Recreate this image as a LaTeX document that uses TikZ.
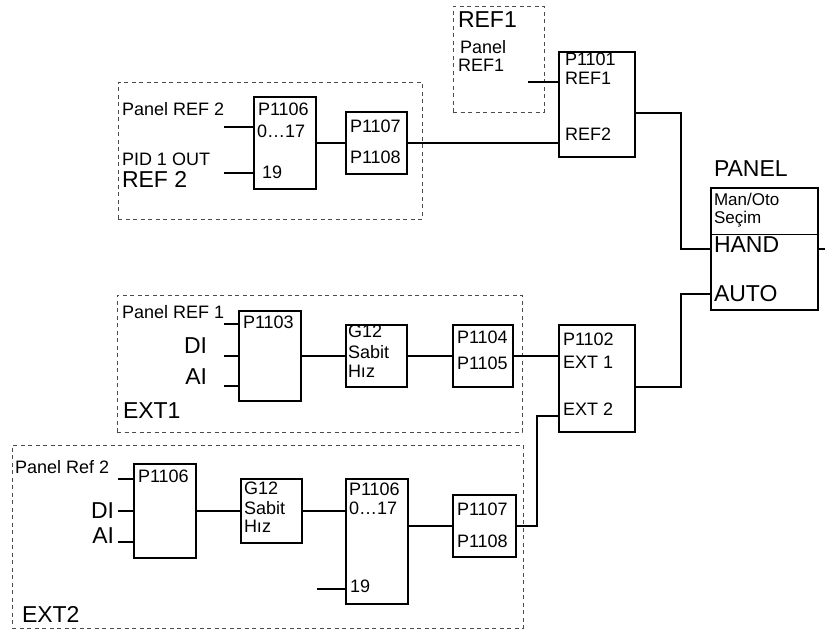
\documentclass[tikz,border=0pt]{standalone}
\usepackage{fontspec}
\setmainfont{Liberation Sans}
\begin{document}
\begin{tikzpicture}[x=1pt,y=-1pt,
  txt/.style={anchor=base west, inner sep=0pt, outer sep=0pt, font=\fontsize{18}{20}\selectfont},
  txtr/.style={txt, anchor=base east},
  big/.style={txt, font=\fontsize{23}{25}\selectfont},
  bigr/.style={big, anchor=base east},
  blk/.style={draw, line width=1.8pt, anchor=north west, inner sep=0pt, outer sep=0pt},
  grp/.style={draw=black!70, line width=0.9pt, dash pattern=on 4pt off 3.5pt, anchor=north west, inner sep=0pt, outer sep=0pt},
  wire/.style={line width=1.8pt}]
\useasboundingbox (0,0) rectangle (825,632);

% dashed group frames
\node[grp, minimum width=304pt, minimum height=137pt] (gref2) at (118,82) {};
\node[grp, minimum width=91pt, minimum height=106pt] (gref1) at (453,6) {};
\node[grp, minimum width=405pt, minimum height=137pt] (gext1) at (117,295) {};
\node[grp, minimum width=511pt, minimum height=183pt] (gext2) at (12,445) {};

% blocks
\node[blk, minimum width=62pt, minimum height=92pt] (p1106a) at (254,97) {};
\node[blk, minimum width=61pt, minimum height=62pt] (p1107a) at (346,112) {};
\node[blk, minimum width=76pt, minimum height=105pt] (p1101) at (559,52) {};
\node[blk, minimum width=107pt, minimum height=122pt] (panel) at (711,188) {};
\node[blk, minimum width=62pt, minimum height=90pt] (p1103) at (239,311) {};
\node[blk, minimum width=61pt, minimum height=62pt] (g12a) at (346,325) {};
\node[blk, minimum width=60pt, minimum height=62pt] (p1104) at (453,325) {};
\node[blk, minimum width=76pt, minimum height=107pt] (p1102) at (559,325) {};
\node[blk, minimum width=62pt, minimum height=94pt] (p1106b) at (134,464) {};
\node[blk, minimum width=61pt, minimum height=64pt] (g12b) at (241,479) {};
\node[blk, minimum width=62pt, minimum height=125pt] (p1106c) at (346,479) {};
\node[blk, minimum width=63pt, minimum height=62pt] (p1107b) at (453,495) {};

% panel divider
\coordinate (divy) at (0,234);
\draw[line width=1pt] (divy -| panel.west) -- (divy -| panel.east);

% free ends / bends
\coordinate (iPr2) at (224,127);
\coordinate (iPid) at (224,173);
\coordinate (iRef1) at (528,82);
\coordinate (hbend) at (681,113);
\coordinate (out) at (825,249);
\coordinate (abot) at (681,387);
\coordinate (atop) at (681,294);
\coordinate (e1a) at (224,324);
\coordinate (e1b) at (224,356);
\coordinate (e1c) at (224,386);
\coordinate (e2a) at (118,479);
\coordinate (e2b) at (118,511);
\coordinate (e2c) at (118,542);
\coordinate (i19) at (317,589);
\coordinate (ext2up) at (537,416);

% connectors
\draw[wire] (iPr2) -- (iPr2 -| p1106a.west);
\draw[wire] (iPid) -- (iPid -| p1106a.west);
\draw[wire] (p1106a.east) -- (p1106a.east -| p1107a.west);
\draw[wire] (p1107a.east) -- (p1107a.east -| p1101.west);
\draw[wire] (iRef1) -- (iRef1 -| p1101.west);
\draw[wire] (hbend -| p1101.east) -- (hbend) |- (panel.west);
\draw[wire] (panel.east) -- (out);
\draw[wire] (abot -| p1102.east) -- (abot) -- (atop) -- (atop -| panel.west);
\draw[wire] (e1a) -- (e1a -| p1103.west);
\draw[wire] (e1b) -- (e1b -| p1103.west);
\draw[wire] (e1c) -- (e1c -| p1103.west);
\draw[wire] (p1103.east) -- (p1103.east -| g12a.west);
\draw[wire] (g12a.east) -- (g12a.east -| p1104.west);
\draw[wire] (p1104.east) -- (p1104.east -| p1102.west);
\draw[wire] (e2a) -- (e2a -| p1106b.west);
\draw[wire] (e2b) -- (e2b -| p1106b.west);
\draw[wire] (e2c) -- (e2c -| p1106b.west);
\draw[wire] (p1106b.east) -- (p1106b.east -| g12b.west);
\draw[wire] (g12b.east) -- (g12b.east -| p1106c.west);
\draw[wire] (i19) -- (i19 -| p1106c.west);
\draw[wire] (p1107b.west -| p1106c.east) -- (p1107b.west);
\draw[wire] (p1107b.east) -| (ext2up) -- (ext2up -| p1102.west);

% REF2 group texts
\node[txt] (tpr2) at (122,115) {Panel REF 2};
\node[txt] (tpid) at (122,165) {PID 1 OUT};
\node[big] (tref2) at (122,187) {REF 2};
\node[txt] (ta1) at (258,115) {P1106};
\node[txt] (ta2) at (257,137) {0…17};
\node[txt] (ta3) at (262,178) {19};
\node[txt] (tb1) at (350,132) {P1107};
\node[txt] (tb2) at (350,163) {P1108};

% REF1 group
\node[big] (tref1) at (458,27) {REF1};
\node[txt] (tpanel1) at (460,53) {Panel};
\node[txt] (tpanel2) at (458,71) {REF1};
\node[txt] (tc1) at (565,65) {P1101};
\node[txt] (tc2) at (565,84) {REF1};
\node[txt] (tc3) at (565,140) {REF2};

% PANEL
\node[big] (tpanel) at (714,176) {PANEL};
\node[txt, font=\fontsize{17}{19}\selectfont] (tman) at (714,205) {Man/Oto};
\node[txt, font=\fontsize{17}{19}\selectfont] (tsec) at (714,223) {Seçim};
\node[big] (thand) at (714,252) {HAND};
\node[big] (tauto) at (714,301) {AUTO};

% EXT1
\node[txt] (tpr1) at (122,318) {Panel REF 1};
\node[bigr] (tdi1) at (207,353) {DI};
\node[bigr] (tai1) at (207,384) {AI};
\node[txt] (td1) at (243,328) {P1103};
\node[txt] (tg1) at (348,337) {G12};
\node[txt] (tg2) at (348,358) {Sabit};
\node[txt] (tg3) at (348,377) {Hız};
\node[txt] (te1) at (457,343) {P1104};
\node[txt] (te2) at (457,369) {P1105};
\node[big] (text1) at (123,418) {EXT1};
\node[txt] (tf1) at (563,345) {P1102};
\node[txt] (tf2) at (563,368) {EXT 1};
\node[txt] (tf3) at (563,415) {EXT 2};

% EXT2
\node[txt] (tpr2b) at (15,473) {Panel Ref 2};
\node[bigr] (tdi2) at (114,518) {DI};
\node[bigr] (tai2) at (114,543) {AI};
\node[txt] (th1) at (138,482) {P1106};
\node[txt] (tk1) at (244,494) {G12};
\node[txt] (tk2) at (244,514) {Sabit};
\node[txt] (tk3) at (244,532) {Hız};
\node[txt] (tm1) at (349,495) {P1106};
\node[txt] (tm2) at (349,514) {0…17};
\node[txt] (tm3) at (350,592) {19};
\node[txt] (tn1) at (457,515) {P1107};
\node[txt] (tn2) at (457,547) {P1108};
\node[big] (text2) at (22,622) {EXT2};
\end{tikzpicture}
\end{document}
